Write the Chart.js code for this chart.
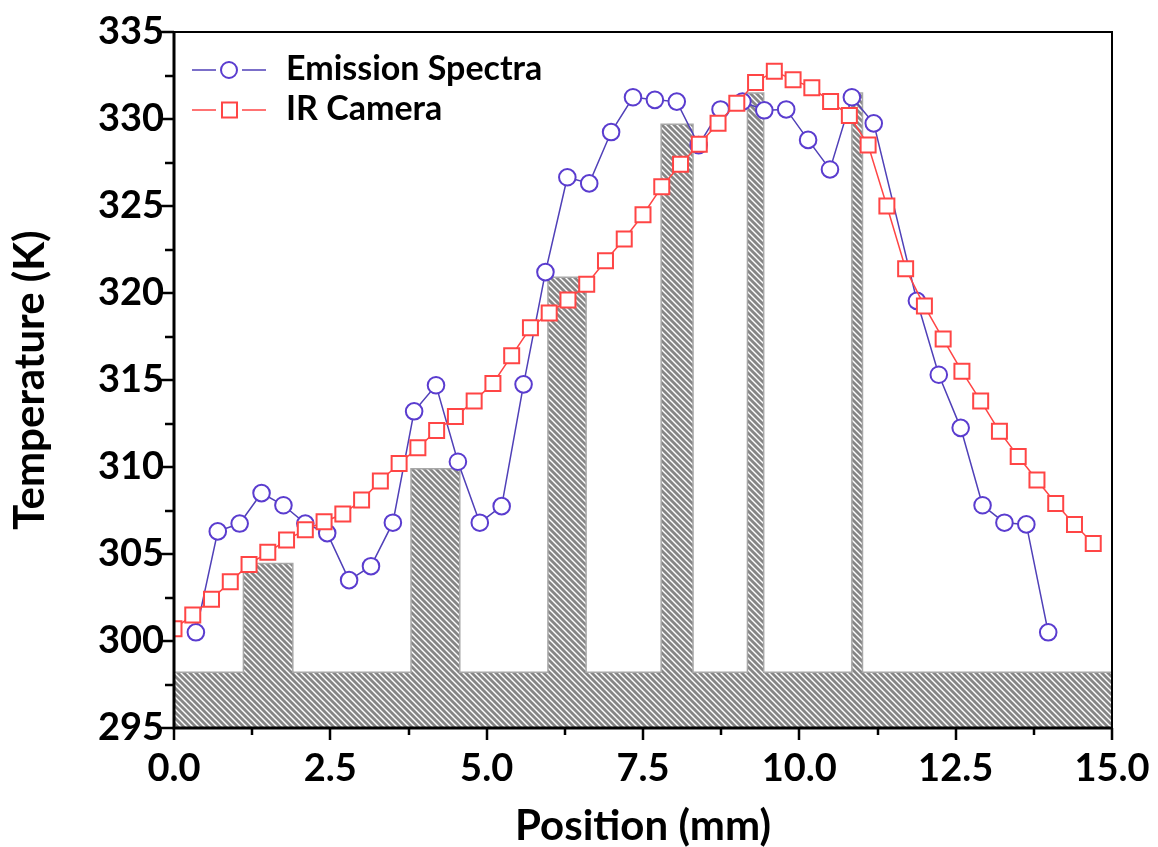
<!DOCTYPE html>
<html>
<head>
<meta charset="utf-8">
<script src="https://cdn.jsdelivr.net/npm/chart.js@4.4.1/dist/chart.umd.min.js"></script>
<style>
    body { margin: 0; background: #ffffff; }
</style>
</head>
<body>
<canvas id="grafico" width="1158" height="847"></canvas>
<script>
// Emission Spectra (mm, K)
const posEmissao = [0.35, 0.70, 1.05, 1.40, 1.75, 2.10, 2.45, 2.80, 3.15, 3.50,
    3.84, 4.19, 4.54, 4.89, 5.24, 5.59, 5.94, 6.29, 6.64, 6.99,
    7.34, 7.69, 8.04, 8.39, 8.74, 9.09, 9.44, 9.79, 10.14, 10.49,
    10.84, 11.19, 11.88, 12.23, 12.58, 12.93, 13.28, 13.63, 13.98];
const tempEmissao = [300.5, 306.3, 306.75, 308.5, 307.8, 306.75, 306.2, 303.5, 304.3, 306.8,
    313.2, 314.7, 310.3, 306.8, 307.75, 314.75, 321.2, 326.65, 326.3, 329.25,
    331.25, 331.1, 331.0, 328.5, 330.55, 331.0, 330.5, 330.55, 328.8, 327.1,
    331.25, 329.75, 319.55, 315.3, 312.25, 307.8, 306.8, 306.7, 300.5];

// IR Camera (mm, K)
const posIR = [0.0, 0.3, 0.6, 0.9, 1.2, 1.5, 1.8, 2.1, 2.4, 2.7,
    3.0, 3.3, 3.6, 3.9, 4.2, 4.5, 4.8, 5.1, 5.4, 5.7,
    6.0, 6.3, 6.6, 6.9, 7.2, 7.5, 7.8, 8.1, 8.4, 8.7,
    9.0, 9.3, 9.6, 9.9, 10.2, 10.5, 10.8, 11.1, 11.4, 11.7,
    12.0, 12.3, 12.6, 12.9, 13.2, 13.5, 13.8, 14.1, 14.4, 14.7];
const tempIR = [300.7, 301.5, 302.4, 303.4, 304.4, 305.1, 305.8, 306.4, 306.85, 307.3,
    308.1, 309.2, 310.2, 311.1, 312.1, 312.9, 313.8, 314.8, 316.4, 318.0,
    318.85, 319.6, 320.5, 321.85, 323.1, 324.5, 326.1, 327.4, 328.55, 329.75,
    330.9, 332.1, 332.75, 332.25, 331.8, 331.0, 330.2, 328.5, 325.0, 321.4,
    319.25, 317.35, 315.5, 313.8, 312.05, 310.6, 309.25, 307.9, 306.7, 305.6];

// perfil hachurado (substrato + pilares)
const baseTopo = 298.2;
const pilarInicio = [1.11, 3.79, 5.98, 7.79, 9.17, 10.84];
const pilarFim = [1.90, 4.57, 6.59, 8.30, 9.43, 11.01];
const pilarTopo = [304.45, 309.9, 320.9, 329.7, 331.5, 331.5];

const ticksX = [0, 2.5, 5, 7.5, 10, 12.5, 15];
const ticksY = [295, 300, 305, 310, 315, 320, 325, 330, 335];

const corEmissao = '#5a3ccf';
const corLinhaEmissao = '#5040b8';
const corIR = '#ff4545';
const fonte = 'Lato';

function montarPerfil() {
    let pts = [{ x: 0, y: baseTopo }];
    for (let i = 0; i < pilarInicio.length; i++) {
        pts.push({ x: pilarInicio[i], y: baseTopo });
        pts.push({ x: pilarInicio[i], y: pilarTopo[i] });
        pts.push({ x: pilarFim[i], y: pilarTopo[i] });
        pts.push({ x: pilarFim[i], y: baseTopo });
    }
    pts.push({ x: 15, y: baseTopo });
    return pts;
}

function criarHachura() {
    const c = document.createElement('canvas');
    c.width = 6;
    c.height = 6;
    const g = c.getContext('2d');
    g.fillStyle = '#868686';
    g.fillRect(0, 0, 6, 6);
    g.strokeStyle = '#ffffff';
    g.lineWidth = 1.4;
    g.beginPath();
    g.moveTo(-1, -1); g.lineTo(7, 7);
    g.moveTo(-1, 5); g.lineTo(1, 7);
    g.moveTo(5, -1); g.lineTo(7, 1);
    g.stroke();
    return g.createPattern(c, 'repeat');
}

// ticks maiores e menores + moldura, estilo Origin
const molduraTicks = {
    id: 'molduraTicks',
    afterDraw(chart) {
        const ctx = chart.ctx;
        const a = chart.chartArea;
        const sx = chart.scales.x;
        const sy = chart.scales.y;
        ctx.save();
        ctx.strokeStyle = '#000';
        ctx.lineWidth = 2.5;
        ctx.beginPath();
        for (let v = 295; v <= 335; v += 2.5) {
            const y = Math.round(sy.getPixelForValue(v));
            const len = (v % 5 === 0) ? 14 : 9;
            ctx.moveTo(a.left - len, y);
            ctx.lineTo(a.left, y);
        }
        for (let v = 0; v <= 15; v += 1.25) {
            const x = Math.round(sx.getPixelForValue(v));
            const len = (v % 2.5 === 0) ? 12 : 7;
            ctx.moveTo(x, a.bottom);
            ctx.lineTo(x, a.bottom + len);
        }
        ctx.stroke();
        ctx.lineWidth = 2;
        ctx.strokeRect(a.left, a.top, a.right - a.left, a.bottom - a.top);
        ctx.lineWidth = 3;
        ctx.beginPath();
        ctx.moveTo(a.left, a.top);
        ctx.lineTo(a.left, a.bottom);
        ctx.lineTo(a.right, a.bottom);
        ctx.stroke();
        ctx.restore();
    }
};

const legendaOrigin = {
    id: 'legendaOrigin',
    afterDraw(chart) {
        const ctx = chart.ctx;
        const itens = [
            { texto: 'Emission Spectra', cor: corEmissao, linha: corLinhaEmissao, y: 70, forma: 'circulo' },
            { texto: 'IR Camera', cor: corIR, linha: corIR, y: 110, forma: 'quadrado' }
        ];
        ctx.save();
        itens.forEach(it => {
            ctx.strokeStyle = it.linha;
            ctx.lineWidth = 1.5;
            ctx.beginPath();
            ctx.moveTo(192, it.y); ctx.lineTo(216, it.y);
            ctx.moveTo(242, it.y); ctx.lineTo(266, it.y);
            ctx.stroke();
            ctx.strokeStyle = it.cor;
            ctx.lineWidth = 2;
            ctx.beginPath();
            if (it.forma === 'circulo') {
                ctx.arc(229, it.y, 8, 0, Math.PI * 2);
            } else {
                ctx.rect(222, it.y - 7.5, 15, 15);
            }
            ctx.stroke();
            ctx.fillStyle = '#000';
            ctx.font = `bold 34px ${fonte}`;
            ctx.textBaseline = 'middle';
            ctx.fillText(it.texto, 286, it.y - 1);
        });
        ctx.restore();
    }
};

const ctxGrafico = document.getElementById('grafico').getContext('2d');

new Chart(ctxGrafico, {
    type: 'line',
    data: {
        datasets: [
            {
                label: 'IR Camera',
                data: posIR.map((x, i) => ({ x: x, y: tempIR[i] })),
                borderColor: corIR,
                borderWidth: 1.5,
                pointStyle: 'rect',
                pointRadius: 10.6,
                pointBorderWidth: 2,
                pointBorderColor: corIR,
                pointBackgroundColor: '#ffffff',
                tension: 0,
                order: 1
            },
            {
                label: 'Emission Spectra',
                data: posEmissao.map((x, i) => ({ x: x, y: tempEmissao[i] })),
                borderColor: corLinhaEmissao,
                borderWidth: 1.5,
                pointStyle: 'circle',
                pointRadius: 8.3,
                pointBorderWidth: 2,
                pointBorderColor: corEmissao,
                pointBackgroundColor: '#ffffff',
                tension: 0,
                order: 2
            },
            {
                label: 'perfil',
                data: montarPerfil(),
                borderColor: '#a8a8a8',
                borderWidth: 1.5,
                backgroundColor: criarHachura(),
                fill: 'start',
                pointRadius: 0,
                tension: 0,
                order: 3
            }
        ]
    },
    options: {
        responsive: false,
        animation: false,
        devicePixelRatio: 1,
        layout: { padding: { top: 32, right: 46, left: 0, bottom: 0 } },
        plugins: {
            legend: { display: false },
            tooltip: { enabled: false }
        },
        scales: {
            x: {
                type: 'linear',
                min: 0,
                max: 15,
                afterFit: (s) => { s.height = 119; s.paddingLeft = 0; s.paddingRight = 0; },
                afterBuildTicks: (s) => { s.ticks = ticksX.map(v => ({ value: v })); },
                grid: { display: false, drawTicks: false },
                border: { display: false },
                ticks: {
                    padding: 18,
                    color: '#000',
                    font: { family: fonte, size: 38, weight: 'bold' },
                    maxRotation: 0,
                    callback: (v) => v.toFixed(1)
                },
                title: {
                    display: true,
                    text: 'Position (mm)',
                    color: '#000',
                    font: { family: fonte, size: 42, weight: 'bold', lineHeight: 1 },
                    padding: { top: 0, bottom: 0 }
                }
            },
            y: {
                min: 295,
                max: 335,
                afterFit: (s) => { s.width = 174; s.paddingTop = 0; s.paddingBottom = 0; },
                afterBuildTicks: (s) => { s.ticks = ticksY.map(v => ({ value: v })); },
                grid: { display: false, drawTicks: false },
                border: { display: false },
                ticks: {
                    padding: 10,
                    color: '#000',
                    font: { family: fonte, size: 38, weight: 'bold' }
                },
                title: {
                    display: true,
                    text: 'Temperature (K)',
                    color: '#000',
                    font: { family: fonte, size: 42, weight: 'bold', lineHeight: 1 },
                    padding: { top: 9, bottom: 0 }
                }
            }
        }
    },
    plugins: [molduraTicks, legendaOrigin]
});
</script>
</body>
</html>
